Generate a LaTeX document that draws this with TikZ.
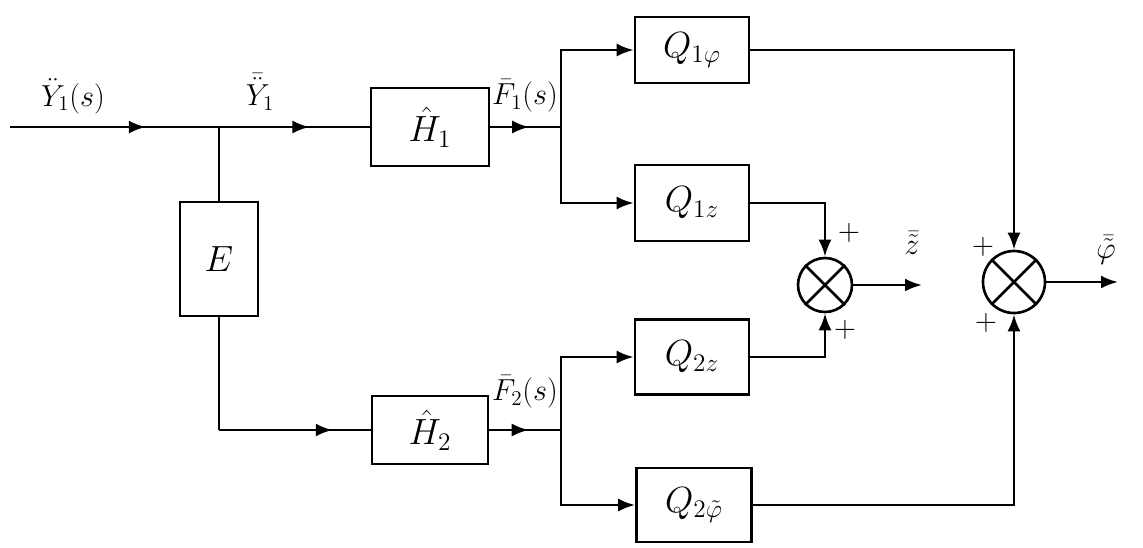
\documentclass[tikz,border=0pt]{standalone}
\usepackage{amsmath,amssymb}
\usepackage{tikz}
\usetikzlibrary{arrows.meta,positioning,calc,decorations.markings}

\begin{document}
\begin{tikzpicture}[x=0.2mm, y=-0.2mm, font=\Large]
\tikzset{
  blk/.style={draw, line width=1.5pt, minimum width=#1, inner sep=2pt,
              font=\huge},
  sumnode/.style={draw, circle, line width=1.5pt, minimum size=#1,
                  inner sep=0pt},
  flow/.style={-{Latex[length=3.4mm,width=2.6mm]}, line width=1.5pt},
  wire/.style={line width=1.5pt},
  midarrow/.style={line width=1.5pt, decoration={markings,
      mark=at position #1 with {\arrow{Latex[length=3.4mm,width=2.6mm]}}},
      postaction={decorate}},
  sgn/.style={font=\LARGE\bfseries, inner sep=1pt},
  lbl/.style={font=\LARGE, inner sep=1pt},
}
\useasboundingbox (0,0) rectangle (1143,547);

% ------------------------- input and filters ----------------------------
\coordinate (in) at (10,127);
\coordinate (j1) at (219,127);
\node[blk=23.6mm, minimum height=15.6mm] at (430,127) (h1) {$\hat H_1$};
\node[blk=15.6mm, minimum height=22.8mm] at (219,259) (e)  {$E$};
\node[blk=23.2mm, minimum height=13.6mm] at (430,430) (h2) {$\hat H_2$};
\coordinate (j2) at (219,430);

\draw[midarrow=0.65] (in) -- (j1);
\draw[midarrow=0.6]  (j1) -- (h1.west);
\draw[wire] (j1) -- (e.north);
\draw[wire] (e.south) -- (j2);
\draw[midarrow=0.75] (j2) -- (h2.west);

\node[lbl] at (73,96)  (ly1) {$\ddot Y_1(s)$};
\node[lbl] at (260,92) (ly2) {$\bar{\ddot Y}_1$};

% ------------------------- branches -------------------------------------
\node[blk=22.8mm, minimum height=13.2mm] at (692,50)  (q1p) {$Q_{1\varphi}$};
\node[blk=22.8mm, minimum height=15.2mm] at (692,203) (q1z) {$Q_{1z}$};
\node[blk=22.8mm, minimum height=15mm]   at (692,357) (q2z) {$Q_{2z}$};
\node[blk=23mm,   minimum height=14.8mm] at (694,505) (q2p) {$Q_{2\tilde\varphi}$};

\coordinate (f1) at (561,127);
\coordinate (f2) at (561,430);
\draw[midarrow=0.55] (h1.east) -- (f1);
\draw[midarrow=0.55] (h2.east) -- (f2);
\draw[flow] (f1) |- (q1p.west);
\draw[flow] (f1) |- (q1z.west);
\draw[flow] (f2) |- (q2z.west);
\draw[flow] (f2) |- (q2p.west);

\node[lbl] at (525,96)  (lf1) {$\bar F_1(s)$};
\node[lbl] at (525,392) (lf2) {$\bar F_2(s)$};

% ------------------------- summing points -------------------------------
\node[sumnode=10.8mm] at (825,285) (s1) {};
\node[sumnode=12.4mm] at (1014,282) (s2) {};
\draw[wire] (s1.north west) -- (s1.south east) (s1.north east) -- (s1.south west);
\draw[wire] (s2.north west) -- (s2.south east) (s2.north east) -- (s2.south west);

\draw[flow] (q1z.east) -| (s1.north);
\draw[flow] (q2z.east) -| (s1.south);
\draw[flow] (q1p.east) -| (s2.north);
\draw[flow] (q2p.east) -| (s2.south);

\node[sgn] at (849,233) (p1) {$+$};
\node[sgn] at (845,330) (p2) {$+$};
\node[sgn] at (983,247) (p3) {$+$};
\node[sgn] at (986,323) (p4) {$+$};

% ------------------------- outputs --------------------------------------
\coordinate (zo) at (922,285);
\coordinate (po) at (1118,282);
\draw[flow] (s1.east) -- (zo);
\draw[flow] (s2.east) -- (po);
\node[lbl] at (912,243)  (lz) {$\bar{\tilde z}$};
\node[lbl] at (1106,250) (lp) {$\bar{\tilde \varphi}$};
\end{tikzpicture}
\end{document}
